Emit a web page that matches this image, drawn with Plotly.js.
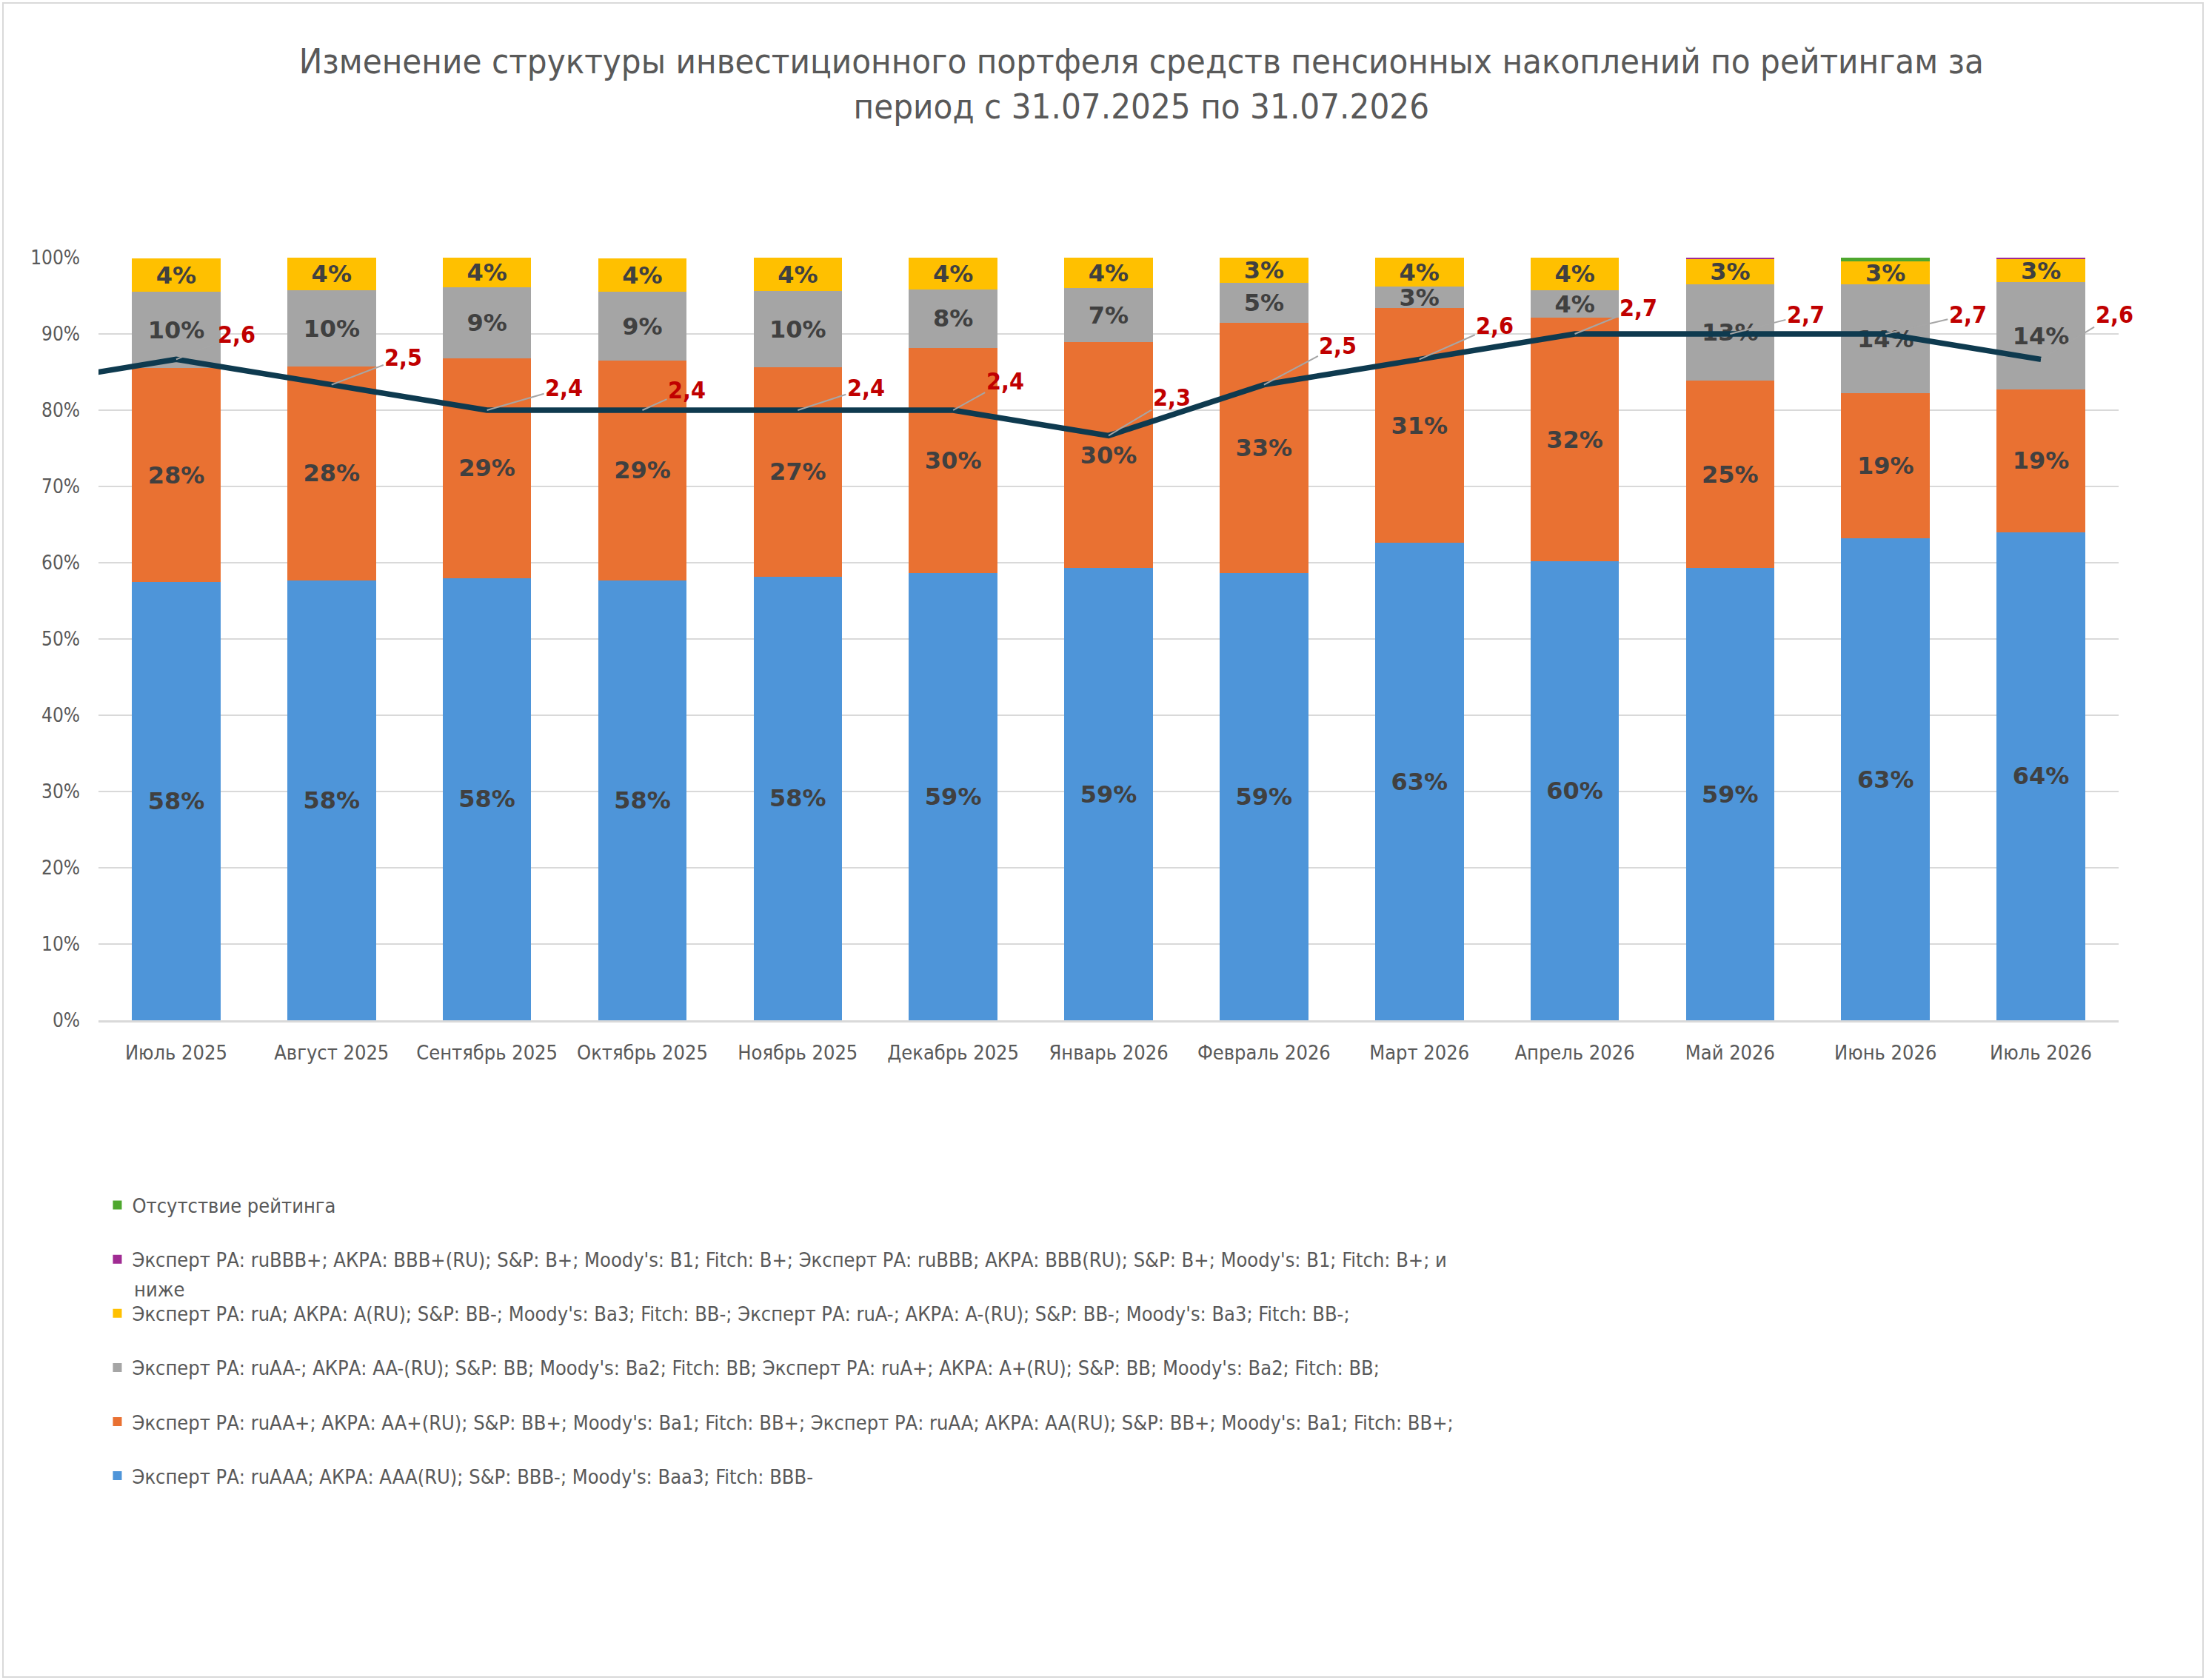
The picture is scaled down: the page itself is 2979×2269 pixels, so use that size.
<!DOCTYPE html>
<html>
<head>
<meta charset="utf-8">
<script src="https://cdn.plot.ly/plotly-3.0.1.min.js"></script>
<style>
  html, body { margin: 0; padding: 0; background: #ffffff; }
  #chart { position: absolute; left: 0; top: 0; width: 2979px; height: 2269px; }
  #frame { position: absolute; left: 3px; top: 3px; width: 2969px; height: 2259px;
           border: 2px solid #d9d9d9; pointer-events: none; }
</style>
</head>
<body>
<div id="chart"></div>
<div id="frame"></div>
<script>
// ---------- DATA ----------
const months = ['Июль 2025', 'Август 2025', 'Сентябрь 2025', 'Октябрь 2025', 'Ноябрь 2025',
  'Декабрь 2025', 'Январь 2026', 'Февраль 2026', 'Март 2026', 'Апрель 2026', 'Май 2026',
  'Июнь 2026', 'Июль 2026'];

const seriesAAA   = [57.5, 57.7, 58.0, 57.7, 58.2, 58.6, 59.3, 58.6, 62.6, 60.2, 59.3, 63.2, 64.0];
const seriesAA    = [28.0, 28.0, 28.8, 28.8, 27.4, 29.6, 29.6, 32.9, 30.8, 31.9, 24.6, 19.0, 18.7];
const seriesA_AA  = [10.0, 10.0, 9.3, 9.0, 10.0, 7.6, 7.1, 5.2, 2.8, 3.6, 12.6, 14.3, 14.1];
const seriesA     = [4.4, 4.3, 3.9, 4.4, 4.4, 4.2, 4.0, 3.3, 3.8, 4.3, 3.3, 3.0, 3.0];
const seriesBBB   = [0, 0, 0, 0, 0, 0, 0, 0, 0, 0, 0.3, 0, 0.2];
const seriesNone  = [0, 0, 0, 0, 0, 0, 0, 0, 0, 0, 0, 0.5, 0];

// средний рейтинг портфеля (правая скрытая шкала 0–3)
const ratingPrev = 2.5;   // Июнь 2025 (за пределами графика)
const rating = [2.6, 2.5, 2.4, 2.4, 2.4, 2.4, 2.3, 2.5, 2.6, 2.7, 2.7, 2.7, 2.6];

const seriesNames = [
  'Эксперт РА: ruAAA; АКРА: AAA(RU); S&P: BBB-; Moody\'s: Baa3; Fitch: BBB-',
  'Эксперт РА: ruAA+; АКРА: AA+(RU); S&P: BB+; Moody\'s: Ba1; Fitch: BB+; Эксперт РА: ruAA; АКРА: AA(RU); S&P: BB+; Moody\'s: Ba1; Fitch: BB+;',
  'Эксперт РА: ruAA-; АКРА: AA-(RU); S&P: BB; Moody\'s: Ba2; Fitch: BB; Эксперт РА: ruA+; АКРА: A+(RU); S&P: BB; Moody\'s: Ba2; Fitch: BB;',
  'Эксперт РА: ruA; АКРА: A(RU); S&P: BB-; Moody\'s: Ba3; Fitch: BB-; Эксперт РА: ruA-; АКРА: A-(RU); S&P: BB-; Moody\'s: Ba3; Fitch: BB-;',
  'Эксперт РА: ruBBB+; АКРА: BBB+(RU); S&P: B+; Moody\'s: B1; Fitch: B+; Эксперт РА: ruBBB; АКРА: BBB(RU); S&P: B+; Moody\'s: B1; Fitch: B+; и',
  'Отсутствие рейтинга'
];
const legendWrapTail = 'ниже';

const titleText = 'Изменение структуры инвестиционного портфеля средств пенсионных накоплений по рейтингам за<br>период с 31.07.2025 по 31.07.2026';

// ---------- STYLE ----------
const colors = ['#4E95D9', '#E97132', '#A5A5A5', '#FFC000', '#A02B93', '#4EA72E'];
const showLabels = [true, true, true, true, false, false];
const condensed = 'DejaVu Sans Condensed, Liberation Sans Narrow, DejaVu Sans, sans-serif';
const boldFont = 'DejaVu Sans, sans-serif';
// pixel offsets of rating labels from their points
const labelDX = [82, 97, 104, 60, 92, 70, 85, 100, 102, 86, 102, 111, 99];
const labelDY = [-33, -37, -30, -27, -30, -39, -51, -53, -45, -35, -26, -26, -60];

const idx = months.map((m, i) => i);
const allSeries = [seriesAAA, seriesAA, seriesA_AA, seriesA, seriesBBB, seriesNone];

const traces = allSeries.map((vals, s) => ({
  type: 'bar',
  x: idx,
  y: vals,
  name: seriesNames[s],
  legendgroup: 'g' + s,
  legendrank: 100 - s,
  marker: { color: colors[s], line: { width: 0 } },
  text: vals.map(v => showLabels[s] ? Math.round(v) + '%' : ''),
  textposition: 'inside',
  insidetextanchor: 'middle',
  constraintext: 'none',
  textangle: 0,
  textfont: { family: boldFont, size: 32, color: '#404040', weight: 'bold' },
  hoverinfo: 'skip'
}));

traces.push({
  type: 'scatter',
  mode: 'lines',
  x: [-1].concat(idx),
  y: [ratingPrev].concat(rating),
  yaxis: 'y2',
  line: { color: '#0E3A4F', width: 7.5 },
  showlegend: false,
  hoverinfo: 'skip'
});

const annotations = rating.map((r, i) => ({
  x: i, y: r, xref: 'x', yref: 'y2',
  text: r.toFixed(1).replace('.', ','),
  showarrow: true, arrowhead: 0, arrowwidth: 2, arrowcolor: '#A6A6A6',
  ax: labelDX[i], ay: labelDY[i], standoff: 0,
  font: { family: condensed, size: 32, color: '#C00000', weight: 'bold' }
}));

annotations.push({
  xref: 'paper', yref: 'paper', x: 0.0169, y: -0.353,
  xanchor: 'left', yanchor: 'middle', showarrow: false,
  text: legendWrapTail,
  font: { family: condensed, size: 27, color: '#595959' }
});

const layout = {
  width: 2979, height: 2269,
  margin: { l: 133, r: 118, t: 348, b: 891, pad: 0 },
  paper_bgcolor: '#ffffff', plot_bgcolor: '#ffffff',
  barmode: 'stack',
  bargap: 0.43,
  title: {
    text: titleText,
    xref: 'container', yref: 'container',
    x: 0.5174, y: 0.9563, xanchor: 'center', yanchor: 'middle',
    font: { family: condensed, size: 47, color: '#595959' }
  },
  xaxis: {
    type: 'linear', range: [-0.5, 12.5], autorange: false,
    tickmode: 'array', tickvals: idx, ticktext: months,
    showgrid: false, zeroline: false,
    showline: true, linecolor: '#D9D9D9', linewidth: 3,
    ticks: '', ticklabelstandoff: 18,
    tickfont: { family: condensed, size: 27, color: '#595959' }
  },
  yaxis: {
    range: [0, 100], autorange: false,
    tickmode: 'linear', tick0: 0, dtick: 10, ticksuffix: '%',
    showgrid: true, gridcolor: '#D9D9D9', gridwidth: 2,
    zeroline: false, showline: false, ticks: '', ticklabelstandoff: 24,
    tickfont: { family: condensed, size: 26, color: '#595959' }
  },
  yaxis2: {
    overlaying: 'y', side: 'right', range: [0, 3], autorange: false,
    visible: false, showgrid: false, zeroline: false
  },
  showlegend: true,
  legend: {
    orientation: 'v', x: 0.002, y: -0.219, xanchor: 'left', yanchor: 'top',
    traceorder: 'grouped', tracegroupgap: 35,
    font: { family: condensed, size: 27, color: '#595959' },
    bgcolor: 'rgba(0,0,0,0)'
  },
  annotations: annotations
};

Plotly.newPlot('chart', traces, layout, { displayModeBar: false, staticPlot: true });
</script>
</body>
</html>
